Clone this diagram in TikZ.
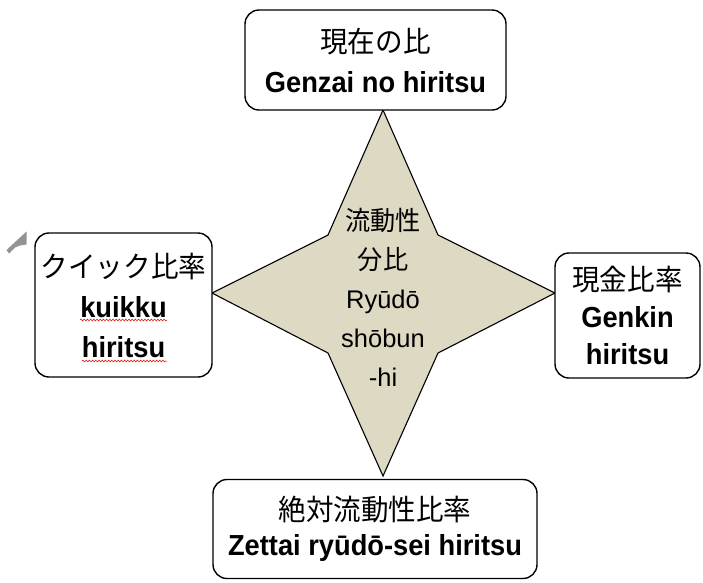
\documentclass[tikz,border=0pt]{standalone}
\usepackage{fontspec}
\setmainfont[FakeStretch=0.94]{Liberation Sans}
\newfontfamily\jp[FakeStretch=0.95]{Noto Sans CJK JP}
\newfontfamily\ctr{Liberation Sans}
\usetikzlibrary{decorations.pathmorphing}
\definecolor{starfill}{HTML}{DDD9C3}
\begin{document}
\begin{tikzpicture}[x=1pt,y=-1pt,
  box/.style={draw=black, line width=1.4pt, rounded corners=14pt, fill=white, align=center, inner sep=0pt},
  squiggle/.style={draw=red!85!black, line width=0.5pt, decorate, decoration={snake, amplitude=0.9pt, segment length=3.2pt}}]
\useasboundingbox (0,0) rectangle (703,582);
% star
\coordinate (st) at (383,110);
\coordinate (sr) at (555,293);
\coordinate (sb) at (383,476);
\coordinate (sl) at (212,293);
\coordinate (ia) at (328,235);
\coordinate (ib) at (438,235);
\coordinate (ic) at (438,353);
\coordinate (id) at (328,353);
\draw[fill=starfill, line width=1.1pt, line join=miter] (st) -- (ib) -- (sr) -- (ic) -- (sb) -- (id) -- (sl) -- (ia) -- cycle;
\node[align=center, inner sep=0pt, font=\ctr\fontsize{25.5}{39}\selectfont] (center) at (383,297)
  {{\jp\fontsize{26.5}{39}\selectfont 流動性}\\{\jp\fontsize{26.5}{39}\selectfont 分比}\\Ryūdō\\shōbun\\-hi};
% boxes
\node[box, minimum width=261pt, minimum height=100pt, font=\fontsize{29}{40}\selectfont] (top) at (375.5,60)
  {{\jp\fontsize{29}{40}\selectfont 現在の比}\\\textbf{Genzai no hiritsu}};
\node[box, minimum width=177pt, minimum height=144pt, font=\fontsize{29}{40}\selectfont] (left) at (123.5,305)
  {{\jp\fontsize{29}{40}\selectfont クイック比率}\\\textbf{kuikku}\\\textbf{hiritsu}};
\node[box, minimum width=145pt, minimum height=125pt, font=\fontsize{29}{37}\selectfont] (right) at (627.5,315.5)
  {{\jp\fontsize{29}{37}\selectfont 現金比率}\\\textbf{Genkin}\\\textbf{hiritsu}};
\node[box, minimum width=324pt, minimum height=99pt, font=\fontsize{29}{35}\selectfont] (bottom) at (375,529)
  {{\jp\fontsize{29}{35}\selectfont 絶対流動性比率}\\\textbf{Zettai ryūdō-sei hiritsu}};
% spell-check squiggles
\coordinate (k1) at (80,320); \coordinate (k2) at (167,320);
\coordinate (h1) at (82,361); \coordinate (h2) at (167,361);
\draw[squiggle] (k1) -- (k2);
\draw[squiggle] (h1) -- (h2);
% small grey mark
\fill[gray!85] (6.5,250) -- (26.5,231.5) -- (26.5,244.5) -- (20,245.5) -- (15,247.5) -- (9,253.5) -- cycle;
\end{tikzpicture}
\end{document}
